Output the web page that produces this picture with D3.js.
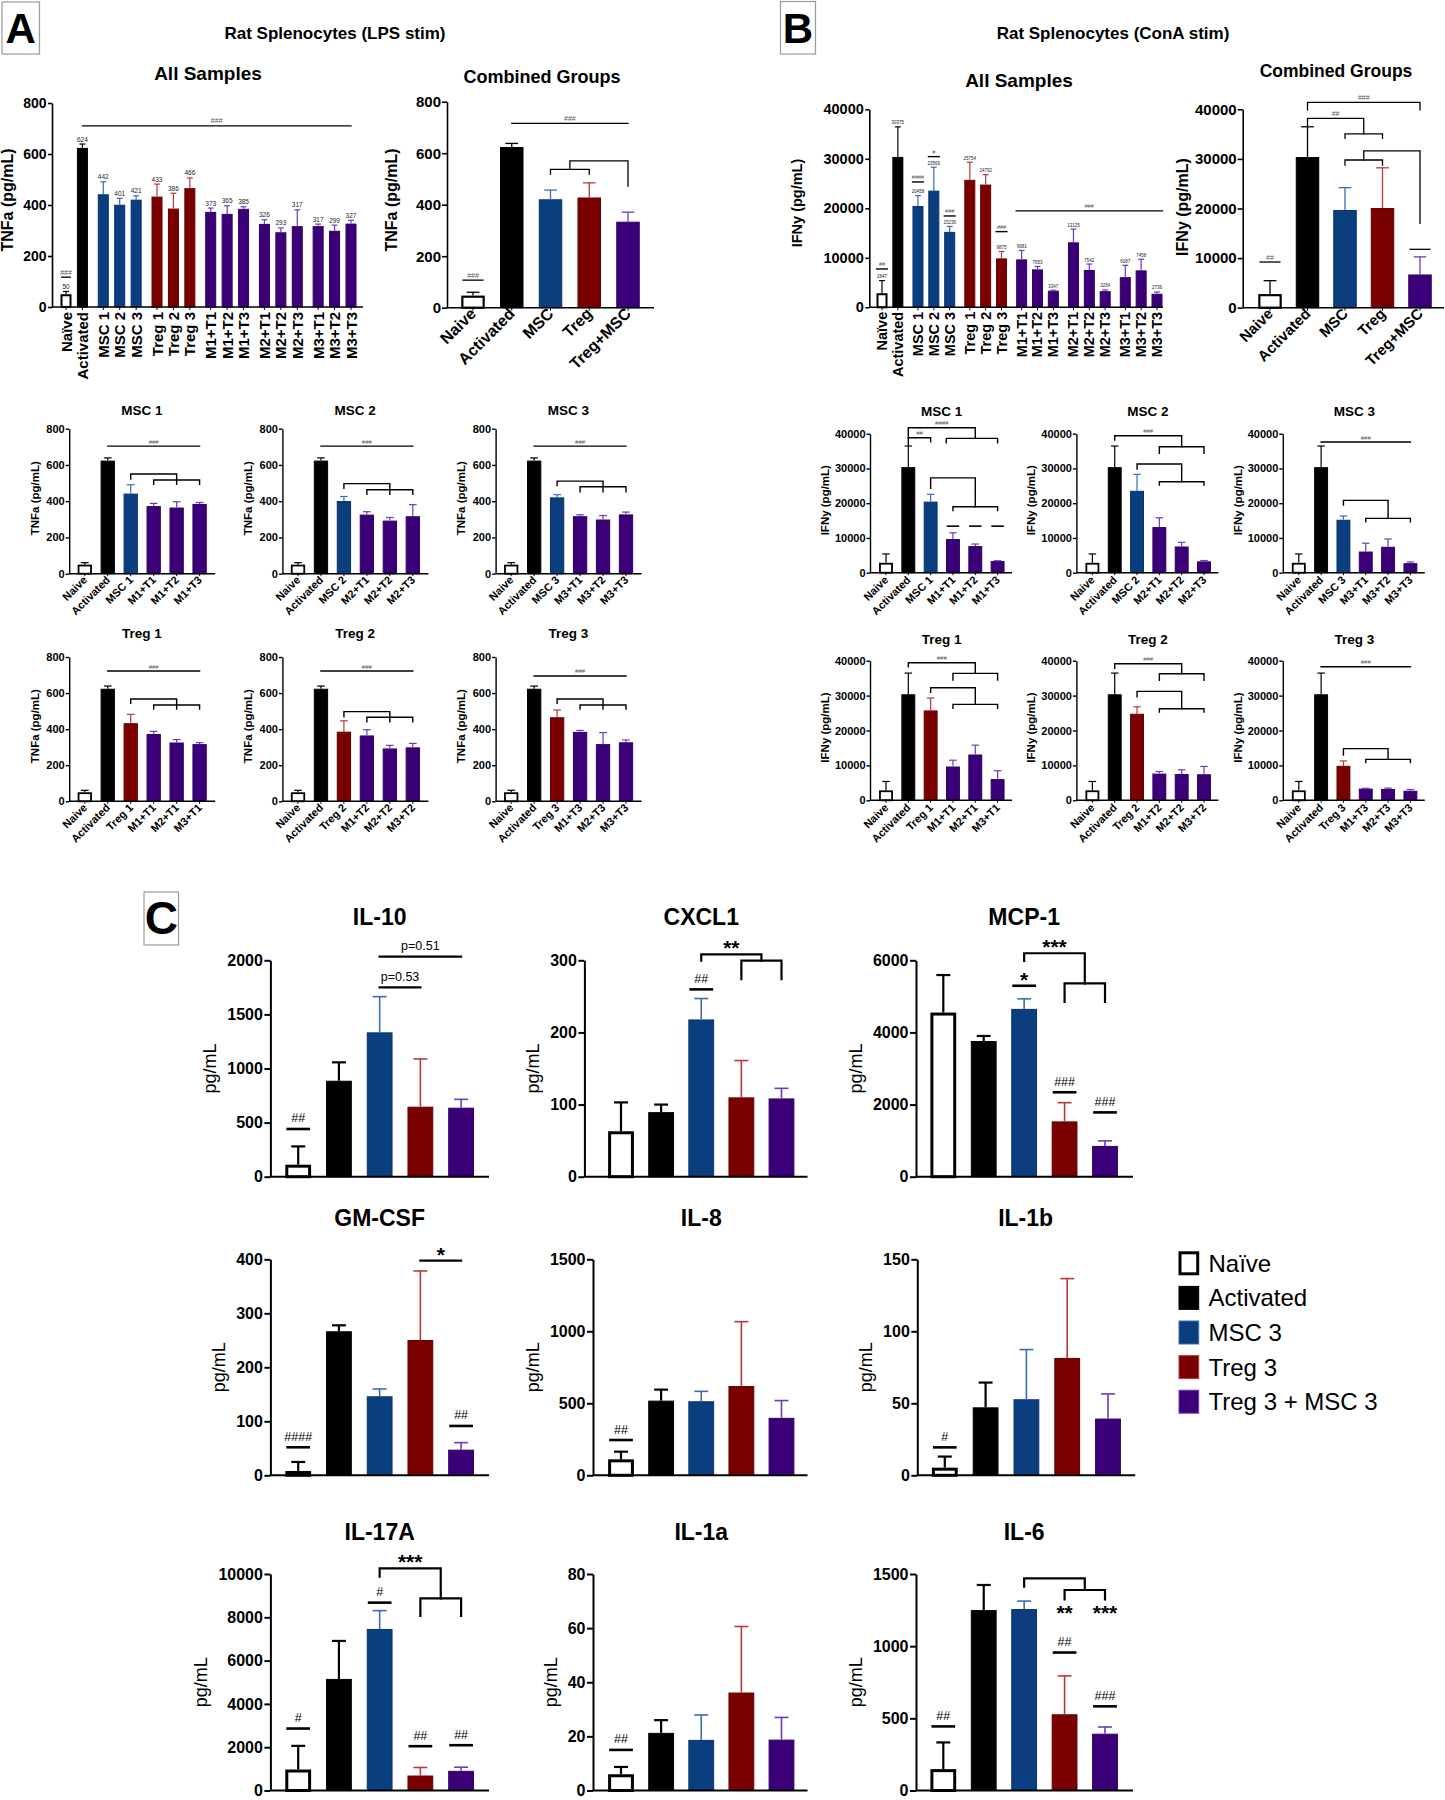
<!DOCTYPE html>
<html><head><meta charset="utf-8">
<script src="https://cdn.jsdelivr.net/npm/d3@7"></script>
<style>
html,body{margin:0;padding:0;background:#fff;}
svg{display:block;}
</style></head><body>
<svg id="fig" width="1445" height="1800"></svg>
<script>
// ======================= DATA =======================
// Panels A/B – individual samples
const allCategories = ["Naïve","Activated","MSC 1","MSC 2","MSC 3","Treg 1","Treg 2","Treg 3",
  "M1+T1","M1+T2","M1+T3","M2+T1","M2+T2","M2+T3","M3+T1","M3+T2","M3+T3"];
const allGroupOf = [0,0,1,1,1,2,2,2,3,3,3,4,4,4,5,5,5];
const allKind = ["naive","act","msc","msc","msc","treg","treg","treg",
  "combo","combo","combo","combo","combo","combo","combo","combo","combo"];

const tnfaMean = [50,624,442,401,421,433,386,466,373,365,385,326,293,317,317,299,327];
const tnfaErr  = [11,15,49,25,15,49,60,40,15,32,8,16,17,64,8,22,13];

const ifnyMean = [2847,30375,20458,23569,15236,25754,24792,9875,9681,7653,3347,13125,7542,3254,6087,7458,2736];
const ifnyErr  = [2550,6075,2100,4730,1100,3550,2000,1400,1800,600,100,2680,1200,250,2400,2250,360];

// Combined groups
const combinedCategories = ["Naive","Activated","MSC","Treg","Treg+MSC"];
const combinedKind = ["naive","act","msc","treg","combo"];
const tnfaCombMean = [47,624,421,428,334];
const tnfaCombErr  = [13,14,36,57,37];
const ifnyCombMean = [2750,30375,19700,20100,6700];
const ifnyCombErr  = [2700,6100,4500,8100,3550];

// Subset panels (indices into allCategories)
const subsetTitles  = ["MSC 1","MSC 2","MSC 3","Treg 1","Treg 2","Treg 3"];
const subsetMembers = [[0,1,2,8,9,10],[0,1,3,11,12,13],[0,1,4,14,15,16],
                       [0,1,5,8,11,14],[0,1,6,9,12,15],[0,1,7,10,13,16]];

const tnfaTicks = [0,200,400,600,800];
const ifnyTicks = [0,10000,20000,30000,40000];

// significance marks (x = bar index, y = data value)
const tnfaAllSig = [{x1:1,x2:16,y:710,t:"###"},{bar:0,y:117,t:"###"}];
const ifnyAllSig = [{bar:0,y:7744,t:"##"},{bar:2,y:25320,t:"####"},{bar:3,y:30440,t:"#"},
  {bar:4,y:18450,t:"###"},{bar:7,y:15290,t:"###"},{x1:8,x2:16,y:19460,t:"###",edges:true}];
const tnfaCombSig = [{x1:1,x2:4,y:716,t:"###"},{bar:0,y:107,t:"###"},
  {x1:2,x2:3,y:537,l1:519,l2:519},{x1:2.5,x2:4,y:570,l1:537,l2:472}];
const ifnyCombSig = [{bar:0,y:9210,t:"##"},{x1:1,x2:4,y:41400,l1:39870,l2:39870,t:"###"},
  {x1:1,x2:2.5,y:38190,l1:36640,l2:35030,t:"##"},{x1:2,x2:3,y:35030,l1:34150,l2:34150},
  {x1:2.5,x2:4,y:31600,l1:29780,l2:17010},{x1:2,x2:3,y:29780,l1:28770,l2:28770},{bar:4,y:11770}];

const tnfaSubsetSig = [
  [{x1:1,x2:5,y:704,t:"###"},{x1:2,x2:4,y:550,l1:522,l2:493},{x1:3,x2:5,y:517,l1:493,l2:493}],
  [{x1:1,x2:5,y:704,t:"###"},{x1:2,x2:4,y:497,l1:471,l2:438},{x1:3,x2:5,y:463,l1:438,l2:438}],
  [{x1:1,x2:5,y:704,t:"###"},{x1:2,x2:4,y:511,l1:486,l2:452},{x1:3,x2:5,y:480,l1:452,l2:452}],
  [{x1:1,x2:5,y:722,t:"###"},{x1:2,x2:4,y:567,l1:543,l2:512},{x1:3,x2:5,y:534,l1:512,l2:512}],
  [{x1:1,x2:5,y:722,t:"###"},{x1:2,x2:4,y:497,l1:469,l2:441},{x1:3,x2:5,y:466,l1:441,l2:441}],
  [{x1:1,x2:5,y:695,t:"###"},{x1:2,x2:4,y:567,l1:543,l2:512},{x1:3,x2:5,y:534,l1:512,l2:512}]
];
const ifnySubsetSig = [
  [{x1:1,x2:4,y:41700,l1:36700,l2:38650,t:"####"},{x1:1,x2:2,y:38850,l2:37700,t:"##"},
   {x1:2.7,x2:5,y:38650,l1:37400,l2:37400},{x1:2,x2:4,y:27300,l1:24300,l2:19000},
   {x1:3,x2:5,y:19000,l1:17850,l2:17850},{bar:3,y:13400},{bar:4,y:13400},{bar:5,y:13400}],
  [{x1:1,x2:4,y:39400,l1:38200,l2:36250,t:"###"},{x1:3,x2:5,y:36250,l1:34350,l2:34350},
   {x1:2,x2:4,y:31270,l1:29830,l2:26190},{x1:3,x2:5,y:26190,l1:25230,l2:25230}],
  [{x1:1,x2:5,y:37600,t:"###"},{x1:2,x2:4,y:20800,l1:19470,l2:15640},{x1:3,x2:5,y:15640,l1:14680,l2:14680}],
  [{x1:1,x2:4,y:39430,l1:38280,l2:36370,t:"###"},{x1:3,x2:5,y:36370,l1:34460,l2:34460},
   {x1:2,x2:4,y:32270,l1:30930,l2:27490},{x1:3,x2:5,y:27490,l1:26350,l2:26350}],
  [{x1:1,x2:4,y:39140,l1:37800,l2:36280,t:"###"},{x1:3,x2:5,y:36280,l1:34370,l2:34370},
   {x1:2,x2:4,y:31220,l1:29690,l2:26250},{x1:3,x2:5,y:26250,l1:25300,l2:25300}],
  [{x1:1,x2:5.15,y:38280,t:"###"},{x1:2,x2:4,y:14800,l1:12980,l2:11740},{x1:3,x2:5,y:11740,l1:10790,l2:10790}]
];

// Panel C – cytokines
const cytoGroups = ["Naïve","Activated","MSC 3","Treg 3","Treg 3 + MSC 3"];
const cytoKind = ["naive","act","msc","treg","combo"];
const cytoNames = ["IL-10","CXCL1","MCP-1","GM-CSF","IL-8","IL-1b","IL-17A","IL-1a","IL-6"];

const il10Mean = [111,887,1334,647,638],      il10Err = [169,170,330,441,77];
const cxcl1Mean = [63,89.5,218,110,108.5],    cxcl1Err = [40,10.5,29,51,14];
const mcp1Mean = [4551,3762,4653,1533,854],   mcp1Err = [1040,140,280,520,140];
const gmcsfMean = [8,266.7,146.3,250.6,47.5], gmcsfErr = [16.7,11.1,13.6,127.8,13];
const il8Mean = [111,518.5,514,620,399],      il8Err = [53,76.5,69,447,120];
const il1bMean = [5.3,47.2,52.8,81.5,39.4],   il1bErr = [7.7,17.2,34.5,55.1,17.1];
const il17aMean = [969,5154,7462,692,908],    il17aErr = [1093,1754,846,370,169];
const il1aMean = [6,21.3,18.7,36.2,18.8],     il1aErr = [2.7,4.7,9.2,24.4,8.2];
const il6Mean = [148,1250,1257,528,393.5],    il6Err = [185,174,55.5,266,46.5];

const il10Ticks = [0,500,1000,1500,2000];
const cxcl1Ticks = [0,100,200,300];
const mcp1Ticks = [0,2000,4000,6000];
const gmcsfTicks = [0,100,200,300,400];
const il8Ticks = [0,500,1000,1500];
const il1bTicks = [0,50,100,150];
const il17aTicks = [0,2000,4000,6000,8000,10000];
const il1aTicks = [0,20,40,60,80];
const il6Ticks = [0,500,1000,1500];

const il10Sig = [{bar:0,y:441,t:"##"},{x1:2,x2:3,y:1750,t:"p=0.53"},{x1:2,x2:4,y:2034,t:"p=0.51"}];
const cxcl1Sig = [{bar:2,y:259.7,t:"##"},{x1:2,x2:3.5,y:308.3,l1:299.5,l2:299.5,t:"**"},{x1:3,x2:4,y:299.5,l1:274,l2:274}];
const mcp1Sig = [{bar:2,y:5294,t:"*"},{x1:2,x2:3.5,y:6195,l1:5981,l2:5359,t:"***"},
  {x1:3,x2:4,y:5359,l1:4848,l2:4848},{bar:3,y:2341,t:"###"},{bar:4,y:1783,t:"###"}];
const gmcsfSig = [{bar:0,y:51.9,t:"####"},{x1:3,x2:4,y:397.5,t:"*"},{bar:4,y:91.4,t:"##"}];
const il8Sig = [{bar:0,y:245,t:"##"}];
const il1bSig = [{bar:0,y:19.4,t:"#"}];
const il17aSig = [{bar:0,y:2862,t:"#"},{bar:2,y:8677,t:"#"},{bar:3,y:2046,t:"##"},{bar:4,y:2092,t:"##"},
  {x1:2,x2:3.5,y:10262,l1:9877,l2:8877,t:"***"},{x1:3,x2:4,y:8877,l1:8062,l2:8062}];
const il1aSig = [{bar:0,y:15,t:"##"}];
const il6Sig = [{bar:0,y:444,t:"##"},{bar:3,y:956,t:"##"},{bar:4,y:583,t:"###"},
  {x1:2,x2:3.5,y:1470,l1:1412,l2:1389},{x1:3,x2:4,y:1389,l1:1324,l2:1324},
  {tx:3,ty:1178,t:"**"},{tx:4,ty:1178,t:"***"}];

// ======================= DRAWING =======================
const FONT = '"Liberation Sans", Arial, Helvetica, sans-serif';
const FILL = {naive:"#ffffff", act:"#000000", msc:"#0a3e7e", treg:"#7a0000", combo:"#3b0078"};
const EDGE = {naive:"#000000", act:"#000000", msc:"#08336a", treg:"#660000", combo:"#300066"};
const ERRC = {naive:"#000000", act:"#000000", msc:"#3b6db3", treg:"#b33b3b", combo:"#6a3cc0"};

const svg = d3.select("#fig").attr("font-family", FONT);
svg.append("rect").attr("width",1445).attr("height",1800).attr("fill","#fff");

function slotCenters(groupOf, first, last) {
  const GAP = 0.27;
  const slots = groupOf.map((g,i) => i + g*GAP);
  const s = d3.scaleLinear().domain([0, slots[slots.length-1]]).range([first, last]);
  return slots.map(s);
}
function pointCenters(n, first, last) {
  const p = d3.scalePoint().domain(d3.range(n)).range([first, last]);
  return d3.range(n).map(p);
}
function makeCx(c) {
  return s => {
    const i0 = Math.floor(s), i1 = Math.min(Math.ceil(s), c.length-1);
    if (i0 === i1) return c[i0];
    return c[i0] + (c[i1]-c[i0])*(s-i0);
  };
}

function drawPanel(o) {
  const g = svg.append("g");
  const y = d3.scaleLinear().domain([0, o.max]).range([o.y0, o.yTop]);
  const cx = makeCx(o.centers);
  const S = o.annStyle;

  // bars
  o.mean.forEach((m,i) => {
    const k = o.kinds[i];
    const sw = k === "naive" ? o.naiveStroke : o.barStroke;
    const top = y(m);
    g.append("rect")
      .attr("x", cx(i) - o.bw/2 + sw/2).attr("y", top + sw/2)
      .attr("width", o.bw - sw).attr("height", Math.max(0.5, o.y0 - top - sw/2))
      .attr("fill", FILL[k]).attr("stroke", EDGE[k]).attr("stroke-width", sw);
  });
  // error bars (upper)
  o.mean.forEach((m,i) => {
    const k = o.kinds[i];
    const top = y(m), e = y(m + o.err[i]);
    const w = (k==="naive"||k==="act") ? o.errW : o.errWc;
    const cw = o.bw*0.27;
    g.append("line").attr("x1",cx(i)).attr("x2",cx(i)).attr("y1",top).attr("y2",e)
      .attr("stroke",ERRC[k]).attr("stroke-width",w);
    g.append("line").attr("x1",cx(i)-cw).attr("x2",cx(i)+cw).attr("y1",e).attr("y2",e)
      .attr("stroke",ERRC[k]).attr("stroke-width",w);
    if (o.valueFs) {
      g.append("text").attr("x",cx(i)).attr("y",e-2.5).attr("text-anchor","middle")
        .attr("font-size",o.valueFs).attr("fill","#222").text(String(Math.round(m)));
    }
  });

  // y axis
  const ax = g.append("g").attr("transform",`translate(${o.x0},0)`)
    .call(d3.axisLeft(y).tickValues(o.ticks).tickSize(o.tickLen).tickSizeOuter(0)
      .tickPadding(o.tickPad).tickFormat(d => String(d)));
  ax.attr("font-family", FONT).attr("font-size", o.tickFs).attr("font-weight","bold");
  ax.select(".domain").attr("stroke","#000").attr("stroke-width",o.axW);
  ax.selectAll(".tick line").attr("stroke","#000").attr("stroke-width",o.axW);
  ax.selectAll(".tick text").attr("fill","#000");

  // x axis
  g.append("line").attr("x1",o.x0).attr("x2",o.xEnd).attr("y1",o.y0).attr("y2",o.y0)
    .attr("stroke","#000").attr("stroke-width",o.axW);
  if (o.xTickLen) o.centers.forEach(c => {
    g.append("line").attr("x1",c).attr("x2",c).attr("y1",o.y0).attr("y2",o.y0+o.xTickLen)
      .attr("stroke","#000").attr("stroke-width",1);
  });

  // x labels
  if (o.xLabels) o.xLabels.forEach((t,i) => {
    g.append("text")
      .attr("transform",`translate(${cx(i)+o.labelDx},${o.y0+o.labelDy}) rotate(${o.labelRot})`)
      .attr("text-anchor","end").attr("dominant-baseline", o.labelRot === -90 ? "central" : "auto")
      .attr("font-size",o.labelFs).attr("font-weight","bold").attr("fill","#000").text(t);
  });

  // title
  if (o.title) g.append("text").attr("x",o.titleX).attr("y",o.titleY).attr("text-anchor","middle")
    .attr("font-size",o.titleFs).attr("font-weight","bold").attr("fill","#000").text(o.title);
  // y label
  if (o.yLabel) g.append("text").attr("transform",`translate(${o.yLabelX},${o.yLabelY}) rotate(-90)`)
    .attr("text-anchor","middle").attr("font-size",o.yLabelFs)
    .attr("font-weight",o.yLabelWeight || "bold").attr("fill","#000").text(o.yLabel);

  // significance marks
  function annText(x, yy, t, free) {
    const star = t.indexOf("*") >= 0;
    g.append("text").attr("x",x)
      .attr("y", free ? yy : (star ? yy + S.starDy : yy - S.hashGap))
      .attr("text-anchor","middle").attr("font-size", star ? S.starFs : S.hashFs)
      .attr("font-weight", star ? "bold" : "normal").attr("fill", star ? "#000" : S.hashColor).text(t);
  }
  (o.ann || []).forEach(a => {
    if (a.bar !== undefined) {
      const w = o.bw * S.barFrac, yy = y(a.y);
      g.append("line").attr("x1",cx(a.bar)-w/2).attr("x2",cx(a.bar)+w/2).attr("y1",yy).attr("y2",yy)
        .attr("stroke","#000").attr("stroke-width",S.barLineW);
      if (a.t) annText(cx(a.bar), yy, a.t);
    } else if (a.x1 !== undefined) {
      let x1 = cx(a.x1), x2 = cx(a.x2);
      if (a.edges) { x1 -= o.bw/2; x2 += o.bw/2; }
      const yy = y(a.y);
      const ya = a.l1 !== undefined ? y(a.l1) : yy;
      const yb = a.l2 !== undefined ? y(a.l2) : yy;
      g.append("path").attr("d",`M${x1},${ya}V${yy}H${x2}V${yb}`)
        .attr("fill","none").attr("stroke","#000").attr("stroke-width",S.lineW)
        .attr("stroke-linejoin","miter").attr("stroke-linecap","square");
      if (a.t) annText((x1+x2)/2, yy, a.t);
    } else if (a.tx !== undefined) {
      annText(cx(a.tx), y(a.ty), a.t, true);
    }
  });
}

// ---------- panel letters & headings ----------
function letterBox(x, yy, w, h, letter, fs, by) {
  svg.append("rect").attr("x",x).attr("y",yy).attr("width",w).attr("height",h)
    .attr("fill","#fff").attr("stroke","#9a9a9a").attr("stroke-width",1.2);
  svg.append("text").attr("x",x+w/2).attr("y",by).attr("text-anchor","middle")
    .attr("font-size",fs).attr("font-weight","bold").attr("fill","#000").text(letter);
}
letterBox(2, 2, 37.5, 52, "A", 42, 43);
letterBox(780.5, 1.5, 35, 52.5, "B", 42, 43);
letterBox(144, 892, 34.5, 53, "C", 46, 934);

svg.append("text").attr("x",335).attr("y",39).attr("text-anchor","middle").attr("font-size",17)
  .attr("font-weight","bold").text("Rat Splenocytes (LPS stim)");
svg.append("text").attr("x",1113).attr("y",39).attr("text-anchor","middle").attr("font-size",17)
  .attr("font-weight","bold").text("Rat Splenocytes (ConA stim)");

const styleBig = {lineW:1.3, barLineW:1.3, barFrac:0.9, hashFs:7, hashColor:"#555", hashGap:2.5, starFs:10, starDy:1};
const styleBAll = {lineW:1.3, barLineW:1.4, barFrac:1.1, hashFs:5.5, hashColor:"#555", hashGap:2.5, starFs:10, starDy:1};
const styleSmall = {lineW:1.4, barLineW:1.6, barFrac:0.9, hashFs:6, hashColor:"#555", hashGap:2.5, starFs:10, starDy:1};
const styleC = {lineW:2.2, barLineW:2.6, barFrac:0.92, hashFs:12.5, hashColor:"#000", hashGap:6.5, starFs:21, starDy:1};

// ---------- Panel A: All samples ----------
drawPanel({
  x0:52, xEnd:363, y0:307, yTop:103, max:800, ticks:tnfaTicks,
  centers: slotCenters(allGroupOf, 66, 351), bw:11, kinds:allKind, mean:tnfaMean, err:tnfaErr,
  tickLen:4, tickPad:1.5, tickFs:14, axW:1.6, xTickLen:3,
  xLabels: allCategories, labelRot:-90, labelFs:15, labelDx:0, labelDy:5,
  title:"All Samples", titleX:208, titleY:80, titleFs:19,
  yLabel:"TNFa (pg/mL)", yLabelX:13, yLabelY:200, yLabelFs:16,
  naiveStroke:2, barStroke:1, errW:1.2, errWc:1.2, valueFs:6.5,
  ann: tnfaAllSig, annStyle: styleBig
});
// ---------- Panel A: Combined ----------
drawPanel({
  x0:447, xEnd:654, y0:307.7, yTop:101.7, max:800, ticks:tnfaTicks,
  centers: pointCenters(5, 473, 628), bw:23.5, kinds:combinedKind, mean:tnfaCombMean, err:tnfaCombErr,
  tickLen:5, tickPad:1, tickFs:15, axW:1.6, xTickLen:3,
  xLabels: combinedCategories, labelRot:-45, labelFs:16, labelDx:4, labelDy:7,
  title:"Combined Groups", titleX:542, titleY:83, titleFs:18,
  yLabel:"TNFa (pg/mL)", yLabelX:397, yLabelY:200, yLabelFs:16,
  naiveStroke:2.2, barStroke:1, errW:1.3, errWc:1.3,
  ann: tnfaCombSig, annStyle: styleBig
});
// ---------- Panel B: All samples ----------
drawPanel({
  x0:869.3, xEnd:1163, y0:307.3, yTop:109.3, max:40000, ticks:ifnyTicks,
  centers: slotCenters(allGroupOf, 882, 1157), bw:11, kinds:allKind, mean:ifnyMean, err:ifnyErr,
  tickLen:4, tickPad:1.5, tickFs:14.5, axW:1.6, xTickLen:3,
  xLabels: allCategories, labelRot:-90, labelFs:14.5, labelDx:0, labelDy:4.5,
  title:"All Samples", titleX:1019, titleY:87, titleFs:19,
  yLabel:"IFNy (pg/mL)", yLabelX:802, yLabelY:203, yLabelFs:14.5,
  naiveStroke:2, barStroke:1, errW:1.2, errWc:1.2, valueFs:4.5,
  ann: ifnyAllSig, annStyle: styleBAll
});
// ---------- Panel B: Combined ----------
drawPanel({
  x0:1242.7, xEnd:1444, y0:307.7, yTop:109.3, max:40000, ticks:ifnyTicks,
  centers: pointCenters(5, 1270, 1420), bw:23.5, kinds:combinedKind, mean:ifnyCombMean, err:ifnyCombErr,
  tickLen:5, tickPad:1, tickFs:15, axW:1.6, xTickLen:3,
  xLabels: combinedCategories, labelRot:-45, labelFs:15, labelDx:4, labelDy:7,
  title:"Combined Groups", titleX:1336, titleY:77, titleFs:17.5,
  yLabel:"IFNy (pg/mL)", yLabelX:1188, yLabelY:207, yLabelFs:16,
  naiveStroke:2.2, barStroke:1, errW:1.3, errWc:1.3,
  ann: ifnyCombSig, annStyle: styleBig
});

// ---------- Subset panels ----------
const subsetLabelsOf = idx => idx.map(i => i === 0 ? "Naive" : allCategories[i]);
subsetMembers.forEach((idx, p) => {
  const col = p % 3, row = Math.floor(p / 3);
  // TNFa (A)
  {
    const x0 = 69.2 + col*213.2;
    const y0 = row ? 801.3 : 573.7, yTop = row ? 657 : 428.7;
    drawPanel({
      x0, xEnd:x0+146, y0, yTop, max:800, ticks:tnfaTicks,
      centers: pointCenters(6, x0+15.6, x0+130.4), bw:14.3,
      kinds: idx.map(i => allKind[i]), mean: idx.map(i => tnfaMean[i]), err: idx.map(i => tnfaErr[i]),
      tickLen:3.5, tickPad:1, tickFs:11, axW:1.4, xTickLen:2.5,
      xLabels: subsetLabelsOf(idx), labelRot:-45, labelFs:11, labelDx:3, labelDy:7,
      title: subsetTitles[p], titleX:x0+72.8, titleY: row ? 638 : 415, titleFs:13.5,
      yLabel:"TNFa (pg/mL)", yLabelX:x0-30.6, yLabelY:(y0+yTop)/2-3, yLabelFs:11.5,
      naiveStroke:1.8, barStroke:1, errW:1.2, errWc:1.2,
      ann: tnfaSubsetSig[p], annStyle: styleSmall
    });
  }
  // IFNy (B)
  {
    const x0 = 870 + col*206.4;
    const y0 = row ? 800.3 : 572.7, yTop = row ? 660.7 : 433.7;
    drawPanel({
      x0, xEnd:x0+142, y0, yTop, max:40000, ticks:ifnyTicks,
      centers: pointCenters(6, x0+16, x0+127.6), bw:13.9,
      kinds: idx.map(i => allKind[i]), mean: idx.map(i => ifnyMean[i]), err: idx.map(i => ifnyErr[i]),
      tickLen:3.5, tickPad:1, tickFs:11, axW:1.4, xTickLen:2.5,
      xLabels: subsetLabelsOf(idx), labelRot:-45, labelFs:11, labelDx:3, labelDy:8,
      title: subsetTitles[p], titleX:x0+71.6, titleY: row ? 644 : 416, titleFs:13.5,
      yLabel:"IFNy (pg/mL)", yLabelX:x0-41.3, yLabelY:(y0+yTop)/2-3, yLabelFs:11.5,
      naiveStroke:1.8, barStroke:1, errW:1.2, errWc:1.2,
      ann: ifnySubsetSig[p], annStyle: styleSmall
    });
  }
});

// ---------- Panel C ----------
const cytoMeans = [il10Mean,cxcl1Mean,mcp1Mean,gmcsfMean,il8Mean,il1bMean,il17aMean,il1aMean,il6Mean];
const cytoErrs  = [il10Err,cxcl1Err,mcp1Err,gmcsfErr,il8Err,il1bErr,il17aErr,il1aErr,il6Err];
const cytoTicks = [il10Ticks,cxcl1Ticks,mcp1Ticks,gmcsfTicks,il8Ticks,il1bTicks,il17aTicks,il1aTicks,il6Ticks];
const cytoSigs  = [il10Sig,cxcl1Sig,mcp1Sig,gmcsfSig,il8Sig,il1bSig,il17aSig,il1aSig,il6Sig];

const cRows = [{y0:1176.7, yTop:960.3, tb:925}, {y0:1475.3, yTop:1259.3, tb:1226}, {y0:1790.5, yTop:1574, tb:1540}];
const cAxisX = [[270.4,584.4,916],[270.4,593,917.3],[270.4,593,916]];
const cBars = [[298.2,461.1],[621,781.5],[943.3,1105]];
const cEnds = [489,807.5,1133];

cytoNames.forEach((name, k) => {
  const row = Math.floor(k/3), col = k % 3;
  const R = cRows[row];
  const x0 = cAxisX[row][col];
  const ticks = cytoTicks[k];
  const maxDigits = String(ticks[ticks.length-1]).length;
  const b = cBars[col];
  const shift = (row === 1 && col === 2) ? 1.5 : 0;
  drawPanel({
    x0, xEnd:cEnds[col] + shift*1.5, y0:R.y0, yTop:R.yTop, max:ticks[ticks.length-1], ticks,
    centers: pointCenters(5, b[0]+shift, b[1]+shift*2), bw:25.8,
    kinds: cytoKind, mean: cytoMeans[k], err: cytoErrs[k],
    tickLen:6, tickPad:1.5, tickFs:16, axW:2,
    title: name, titleX:(b[0]+b[1])/2 + shift, titleY:R.tb, titleFs:23,
    yLabel:"pg/mL", yLabelX: x0 - (maxDigits*8.9 + 23) + 4.5, yLabelY:(R.y0+R.yTop)/2, yLabelFs:18, yLabelWeight:"normal",
    naiveStroke:3, barStroke:1, errW:2.2, errWc:1.6,
    ann: cytoSigs[k], annStyle: styleC
  });
});

// legend
const legend = svg.append("g");
cytoGroups.forEach((name, i) => {
  const yc = 1263.3 + i*34.6;
  const k = cytoKind[i];
  const sw = k === "naive" ? 3 : 1;
  legend.append("rect").attr("x",1178.5+sw/2).attr("y",yc-12+sw/2).attr("width",20.7-sw).attr("height",24-sw)
    .attr("fill",FILL[k]).attr("stroke",k==="naive"?"#000":ERRC[k]).attr("stroke-width",sw);
  legend.append("text").attr("x",1208.5).attr("y",yc+8.5).attr("font-size",24).attr("fill","#000").text(name);
});
</script>
</body></html>
